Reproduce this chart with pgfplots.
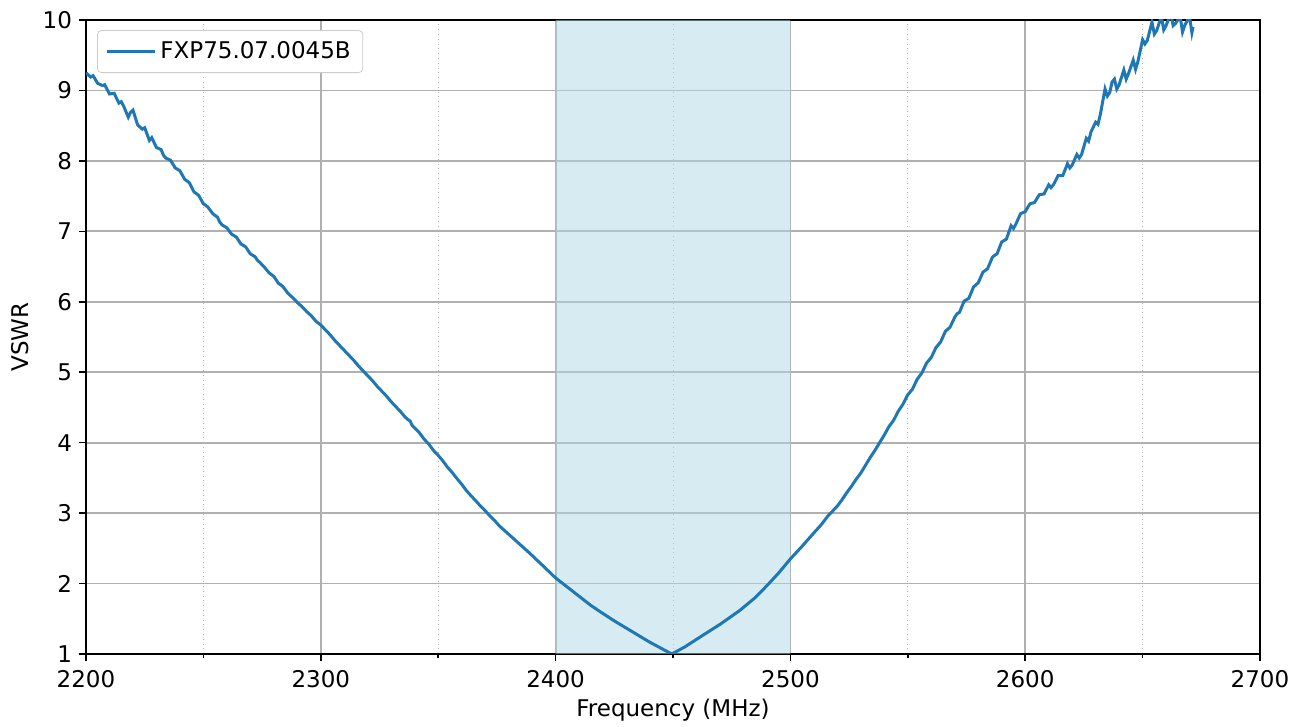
\documentclass[border=0pt]{standalone}
\usepackage{fontspec}
\setmainfont{DejaVu Sans}
\usepackage{pgfplots}
\pgfplotsset{compat=1.18}
\definecolor{mplblue}{HTML}{1F77B4}
\definecolor{spanblue}{HTML}{ADD8E6}
\definecolor{gridgray}{HTML}{B0B0B0}
\definecolor{leggray}{HTML}{CCCCCC}
\begin{document}
\begin{tikzpicture}
\begin{axis}[
  name=ax,
  scale only axis,
  width=587pt, height=317pt,
  xmin=2200, xmax=2700, ymin=1, ymax=10,
  xtick={2200,2300,...,2700},
  ytick={1,2,...,10},
  minor x tick num=1,
  grid=both,
  major grid style={gridgray, line width=0.9pt},
  minor grid style={gridgray, line width=0.4pt, dotted},
  tick align=outside,
  major tick length=3.5pt,
  minor tick length=2pt,
  tick style={black, line width=0.8pt},
  xtick pos=bottom, ytick pos=left,
  axis line style={black, line width=0.8pt},
  /pgf/number format/assume math mode=true,
  /pgf/number format/1000 sep={},
  ticklabel style={font=\fontsize{11.5pt}{13pt}\selectfont},
  xticklabel style={yshift=-1pt},
  label style={font=\fontsize{11.5pt}{13pt}\selectfont},
  xlabel={Frequency (MHz)},
  ylabel={VSWR},
  xlabel style={yshift=1pt},
  ylabel style={yshift=0pt},
  legend style={at={(0.0094,0.984)}, anchor=north west, draw=leggray, rounded corners=2pt,
    font=\fontsize{11.5pt}{13pt}\selectfont, inner xsep=4pt, inner ysep=3.5pt, cells={anchor=west}},
  legend image code/.code={\draw[#1] (0pt,0pt) -- (24pt,0pt);},
]
\addplot[draw=none, fill=spanblue, fill opacity=0.5, forget plot] coordinates {(2400,1) (2400,10) (2500,10) (2500,1)} \closedcycle;
\addplot[mplblue, line width=1.5pt] coordinates {
(2200,9.25) (2202,9.19) (2203,9.21) (2205,9.10) (2207,9.07) (2208,9.08) (2210,8.95) (2212,8.96) (2214,8.82)
(2215,8.84) (2216,8.78) (2218,8.62) (2219,8.69) (2220,8.72) (2222,8.51) (2224,8.45) (2225,8.47) (2226,8.38) (2227,8.29) (2228,8.33)
(2230,8.19) (2232,8.16) (2233,8.08) (2234,8.04) (2236,8.01) (2238,7.90) (2240,7.86) (2242,7.74) (2244,7.69)
(2246,7.56) (2248,7.51) (2250,7.39) (2251,7.37) (2252,7.34) (2254,7.25) (2256,7.20) (2257,7.13) (2258,7.09) (2260,7.05)
(2262,6.96) (2263,6.94) (2264,6.92) (2266,6.82) (2268,6.78) (2270,6.68) (2272,6.64) (2273,6.59) (2274,6.56) (2276,6.49)
(2278,6.41) (2280,6.36) (2282,6.26) (2283,6.24) (2284,6.21) (2286,6.12) (2288,6.06) (2290,5.99) (2292,5.93)
(2294,5.86) (2296,5.80) (2298,5.72) (2300,5.67) (2302,5.60) (2304,5.53) (2306,5.45) (2308,5.38)
(2310,5.31) (2312,5.24) (2314,5.17) (2316,5.09) (2318,5.02) (2320,4.95) (2322,4.88) (2324,4.80)
(2326,4.73) (2328,4.66) (2330,4.58) (2332,4.51) (2334,4.44) (2336,4.36) (2337,4.33) (2338,4.31) (2339,4.24)
(2340,4.21) (2342,4.14) (2344,4.05) (2346,3.98) (2348,3.89) (2350,3.82) (2352,3.74) (2354,3.65)
(2356,3.575) (2358,3.49) (2360,3.41) (2362,3.32) (2364,3.245) (2366,3.175) (2368,3.10) (2370,3.035)
(2372,2.96) (2374,2.895) (2376,2.82) (2378,2.76) (2380,2.70) (2385,2.55) (2389,2.43) (2395,2.24)
(2400,2.08) (2405,1.95) (2410,1.82) (2415,1.69) (2419,1.60) (2425,1.47) (2430,1.37) (2436,1.25)
(2440,1.17) (2445,1.08) (2449.5,1.00) (2455,1.10) (2461.5,1.24) (2470,1.42) (2478.5,1.62) (2485,1.80)
(2490,1.97) (2495,2.15) (2500,2.35) (2505,2.53) (2510,2.72) (2513,2.83) (2516,2.96)
(2520,3.10) (2522,3.19) (2524,3.29) (2526,3.38) (2528,3.48) (2530,3.57) (2532,3.68) (2534,3.79)
(2536,3.89) (2538,4.00) (2540,4.11) (2542,4.23) (2544,4.32) (2546,4.45) (2548,4.55) (2550,4.68)
(2552,4.76) (2554,4.90) (2556,4.99) (2558,5.13) (2560,5.21) (2562,5.35) (2564,5.43) (2566,5.58)
(2568,5.64) (2570,5.78) (2571,5.83) (2572,5.85) (2574,6.01) (2576,6.05) (2578,6.21) (2580,6.27) (2582,6.42)
(2584,6.47) (2586,6.63) (2587,6.66) (2588,6.68) (2590,6.85) (2592,6.89) (2594,7.08) (2595,7.04) (2596,7.10) (2598,7.25)
(2600,7.28) (2602,7.39) (2604,7.41) (2606,7.52) (2608,7.53) (2610,7.66) (2611,7.62) (2612,7.66) (2614,7.79)
(2616,7.79) (2618,7.96) (2619,7.90) (2620,7.94) (2622,8.09) (2623,8.04) (2624,8.09) (2626,8.32) (2627,8.28) (2628,8.41) (2630,8.55)
(2631,8.52) (2632,8.66) (2634,9.02) (2635,8.92) (2636,8.97) (2637,9.12) (2638,9.16) (2639,9.02) (2640,9.08) (2642,9.29) (2643,9.16) (2644,9.24) (2646,9.43)
(2647,9.30) (2648,9.41) (2650,9.72) (2651,9.66) (2652,9.71) (2654,9.97) (2655,9.80) (2656,9.85) (2658,10.05) (2659,9.86) (2660,9.92) (2662,10.1)
(2663,9.92) (2664,9.95) (2666,10.05) (2667,9.83) (2668,9.93) (2670,10.05) (2671,9.82) (2671.5,9.90)
};
\addlegendentry{FXP75.07.0045B}
\end{axis}
\pgfresetboundingbox
\useasboundingbox ([xshift=-43pt,yshift=-36.5pt]ax.south west) rectangle ([xshift=21pt,yshift=10pt]ax.north east);
\end{tikzpicture}
\end{document}
